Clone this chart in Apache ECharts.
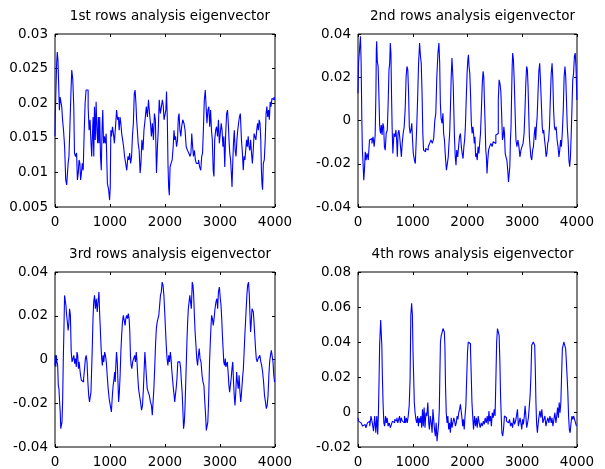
<!DOCTYPE html>
<html>
<head>
<meta charset="utf-8">
<title>rows analysis eigenvector</title>
<script src="https://cdn.jsdelivr.net/npm/echarts@6/dist/echarts.min.js"></script>
<style>
  html, body { margin: 0; padding: 0; background: #fff; }
  #main { width: 605px; height: 469px; }
</style>
</head>
<body>
<div id="main"></div>
<script>
// 子图标题
var titles = ['1st rows analysis eigenvector', '2nd rows analysis eigenvector',
  '3rd rows analysis eigenvector', '4th rows analysis eigenvector'];

// x 轴刻度 (采样点序号)
var xMin = 0, xMax = 4000, xStep = 1000;

// y 轴刻度
var yMins = [0.005, -0.04, -0.04, -0.02];
var yMaxs = [0.03, 0.04, 0.04, 0.08];
var ySteps = [0.005, 0.02, 0.02, 0.02];

// 第1行特征向量 [序号, 值]
var row1 = [[0,0.0152],[10,0.0183],[25,0.0183],[35,0.0258],[48,0.0274],[60,0.0262],[75,0.0262],[85,0.019],[100,0.0209],[115,0.0209],[130,0.0195],[145,0.0176],[165,0.0161],[185,0.0137],[205,0.0089],[220,0.0082],[232,0.0084],[245,0.0113],[262,0.0123],[280,0.0166],[297,0.0212],[312,0.0248],[335,0.0234],[348,0.0195],[360,0.0128],[385,0.0123],[400,0.0128],[415,0.0089],[430,0.0099],[445,0.0118],[460,0.0113],[472,0.0089],[488,0.0099],[505,0.0113],[520,0.0103],[540,0.0156],[555,0.02],[575,0.0219],[595,0.0219],[610,0.0195],[630,0.0161],[645,0.0176],[660,0.0147],[675,0.0123],[685,0.0152],[700,0.018],[710,0.0123],[725,0.0195],[740,0.0147],[755,0.0202],[770,0.0161],[782,0.0142],[795,0.018],[806,0.0142],[820,0.018],[835,0.0123],[848,0.0103],[862,0.0161],[875,0.019],[890,0.0142],[905,0.0152],[920,0.0142],[940,0.0156],[965,0.0084],[985,0.0075],[1000,0.006],[1010,0.0079],[1020,0.0161],[1035,0.0152],[1055,0.0166],[1070,0.0156],[1090,0.0142],[1110,0.0166],[1130,0.019],[1145,0.0176],[1160,0.018],[1175,0.0161],[1190,0.018],[1205,0.0171],[1220,0.0156],[1240,0.0147],[1255,0.0137],[1275,0.0123],[1295,0.0113],[1315,0.0103],[1335,0.0123],[1350,0.0118],[1365,0.0128],[1385,0.0113],[1400,0.0123],[1415,0.0152],[1435,0.0171],[1448,0.0214],[1465,0.0219],[1478,0.02],[1490,0.0176],[1505,0.0161],[1520,0.0142],[1540,0.0132],[1555,0.0099],[1570,0.0113],[1590,0.0147],[1610,0.0132],[1625,0.0161],[1650,0.0176],[1670,0.0195],[1690,0.018],[1710,0.0205],[1728,0.0185],[1745,0.0171],[1760,0.0152],[1780,0.0171],[1800,0.0147],[1815,0.0185],[1835,0.0176],[1855,0.0099],[1870,0.0137],[1885,0.0161],[1905,0.0205],[1925,0.0185],[1945,0.0195],[1960,0.0205],[1975,0.0197],[1990,0.0176],[2010,0.0176],[2020,0.019],[2035,0.0217],[2048,0.018],[2060,0.0113],[2072,0.0079],[2085,0.0067],[2100,0.0108],[2120,0.0113],[2140,0.0118],[2157,0.0137],[2170,0.0161],[2185,0.0147],[2200,0.0152],[2220,0.0137],[2235,0.0147],[2250,0.018],[2262,0.0185],[2280,0.0161],[2295,0.0152],[2310,0.0166],[2335,0.0176],[2355,0.0171],[2375,0.0161],[2395,0.0137],[2420,0.0132],[2445,0.0128],[2465,0.0123],[2478,0.0128],[2495,0.0156],[2510,0.0137],[2525,0.0123],[2545,0.0132],[2560,0.0118],[2580,0.0113],[2600,0.0113],[2618,0.0118],[2640,0.0108],[2660,0.0103],[2675,0.0123],[2690,0.0128],[2705,0.0161],[2725,0.0205],[2740,0.0219],[2755,0.0195],[2770,0.0171],[2790,0.019],[2805,0.0195],[2820,0.0166],[2838,0.019],[2852,0.0161],[2868,0.0147],[2885,0.0103],[2895,0.0094],[2912,0.0147],[2930,0.0161],[2945,0.0166],[2965,0.0152],[2980,0.0176],[2995,0.0142],[3015,0.0156],[3030,0.0171],[3045,0.0161],[3062,0.0137],[3078,0.0152],[3095,0.0108],[3112,0.0156],[3128,0.0185],[3145,0.019],[3157,0.0171],[3170,0.0147],[3185,0.0128],[3200,0.0118],[3212,0.0099],[3225,0.0079],[3238,0.0113],[3252,0.0142],[3268,0.0161],[3282,0.0132],[3300,0.0123],[3315,0.0147],[3330,0.0161],[3345,0.0171],[3360,0.018],[3380,0.0185],[3400,0.0147],[3415,0.0128],[3430,0.0103],[3445,0.0123],[3460,0.0118],[3475,0.0132],[3490,0.0147],[3505,0.0137],[3520,0.0152],[3535,0.0137],[3550,0.0132],[3565,0.0147],[3580,0.0128],[3597,0.0113],[3612,0.0132],[3628,0.0156],[3645,0.0156],[3660,0.0147],[3675,0.0161],[3690,0.0171],[3705,0.0161],[3720,0.0176],[3735,0.0171],[3748,0.0147],[3758,0.0103],[3768,0.0084],[3780,0.0075],[3795,0.0113],[3815,0.0118],[3830,0.0147],[3845,0.0185],[3860,0.0195],[3875,0.018],[3890,0.019],[3905,0.0176],[3920,0.0202],[3935,0.0195],[3955,0.0207],[3975,0.0205],[3990,0.0209],[4000,0.0205]];

// 第2行特征向量
var row2 = [[0,0.0126],[20,0.0265],[40,0.0265],[50,0.0389],[65,0.0265],[75,0.0002],[85,-0.0137],[100,-0.0199],[110,-0.0276],[125,-0.023],[140,-0.0145],[155,-0.0183],[175,-0.0152],[200,-0.0183],[220,-0.009],[245,-0.0083],[265,-0.0106],[285,-0.0075],[305,-0.0121],[322,-0.0067],[332,0.0126],[338,0.0327],[345,0.0366],[360,0.0273],[375,0.025],[390,0.0111],[398,-0.0013],[405,-0.0044],[420,-0.006],[432,-0.0021],[448,-0.0067],[462,-0.0013],[475,-0.0029],[490,-0.0121],[505,-0.0137],[525,-0.006],[545,-0.0044],[560,0.0095],[572,0.0234],[585,0.0265],[595,0.0358],[608,0.0312],[618,0.0111],[628,-0.0029],[645,-0.0152],[668,-0.006],[685,-0.0075],[700,-0.0044],[712,-0.009],[725,-0.0168],[738,-0.006],[755,-0.0044],[768,-0.0075],[785,-0.0121],[800,-0.0168],[815,-0.0106],[835,-0.006],[852,-0.0029],[870,0.0049],[888,0.0203],[901,0.025],[918,0.0234],[930,0.0126],[945,-0.0029],[960,-0.006],[975,-0.0044],[990,-0.0013],[1000,-0.0083],[1020,-0.0152],[1040,-0.0183],[1054,-0.0199],[1068,-0.0106],[1082,-0.0013],[1098,0.0111],[1115,0.0265],[1135,0.0358],[1148,0.0296],[1162,0.0265],[1178,0.0126],[1190,-0.006],[1205,-0.0137],[1225,-0.0145],[1245,-0.0129],[1270,-0.0137],[1295,-0.0121],[1320,-0.0106],[1345,-0.009],[1370,-0.0106],[1395,-0.0083],[1412,0.0002],[1430,0.0033],[1450,0.0203],[1470,0.0312],[1486,0.0358],[1498,0.0265],[1510,0.008],[1525,0.001],[1545,-0.0013],[1558,0.0033],[1570,-0.006],[1588,-0.009],[1605,-0.0168],[1626,-0.023],[1642,-0.0237],[1655,-0.0168],[1668,-0.0106],[1680,-0.006],[1695,0.0049],[1710,0.0203],[1722,0.0289],[1732,0.0296],[1745,0.0172],[1755,0.0049],[1768,-0.0075],[1785,-0.0168],[1795,-0.0207],[1812,-0.0137],[1830,-0.0168],[1845,-0.0121],[1862,-0.0075],[1880,-0.006],[1895,-0.0121],[1910,-0.0152],[1928,-0.0176],[1940,-0.0121],[1955,-0.009],[1968,-0.0029],[1985,0.0095],[2000,0.0219],[2012,0.0281],[2022,0.0304],[2035,0.025],[2048,0.0219],[2062,0.0126],[2078,-0.0013],[2092,-0.006],[2105,-0.0029],[2118,-0.006],[2130,-0.0106],[2142,-0.0075],[2155,-0.0168],[2170,-0.0152],[2185,-0.0183],[2200,-0.0121],[2215,-0.0152],[2230,-0.0106],[2245,-0.006],[2262,0.0049],[2278,0.0172],[2292,0.0227],[2302,0.0203],[2315,0.0095],[2328,-0.0013],[2340,-0.0137],[2350,-0.0168],[2363,-0.0245],[2378,-0.0183],[2392,-0.0137],[2415,-0.0121],[2440,-0.0106],[2460,-0.0121],[2480,-0.0098],[2505,-0.0106],[2530,-0.0067],[2555,-0.006],[2570,0.0095],[2585,0.0188],[2600,0.0172],[2618,0.0134],[2632,0.0018],[2645,-0.009],[2658,-0.0075],[2670,-0.0029],[2682,-0.006],[2695,-0.0152],[2710,-0.0168],[2728,-0.0183],[2742,-0.023],[2755,-0.0284],[2768,-0.0284],[2778,-0.0214],[2790,-0.009],[2800,-0.0029],[2812,0.0126],[2820,0.025],[2830,0.0312],[2848,0.0281],[2862,0.0172],[2875,0.0049],[2895,-0.009],[2912,-0.0121],[2930,-0.009],[2948,-0.0121],[2968,-0.0168],[2985,-0.0137],[3005,-0.0121],[3025,-0.0106],[3042,-0.006],[3058,0.0049],[3072,0.0172],[3088,0.025],[3100,0.0234],[3112,0.0157],[3125,0.0033],[3135,-0.0075],[3150,-0.0121],[3165,-0.0168],[3182,-0.0183],[3197,-0.0137],[3212,-0.0121],[3228,-0.006],[3240,-0.0029],[3252,-0.009],[3265,-0.0029],[3280,0.0018],[3295,0.0126],[3312,0.0227],[3325,0.0265],[3340,0.0188],[3358,0.008],[3372,-0.0029],[3385,-0.006],[3400,-0.0044],[3415,-0.009],[3428,-0.0121],[3442,-0.0168],[3458,-0.0152],[3472,-0.0106],[3490,-0.009],[3505,-0.0029],[3520,0.0095],[3538,0.0219],[3552,0.0265],[3565,0.0188],[3580,0.0049],[3595,-0.0029],[3610,-0.0044],[3628,-0.0029],[3645,-0.009],[3662,-0.0121],[3678,-0.0168],[3692,-0.0137],[3708,-0.009],[3722,-0.0121],[3740,-0.006],[3758,0.0049],[3772,0.0203],[3788,0.025],[3800,0.0203],[3815,0.0095],[3830,-0.0029],[3845,-0.009],[3860,-0.0183],[3873,-0.0214],[3888,-0.0168],[3902,-0.006],[3915,0.0064],[3930,0.0188],[3945,0.0219],[3960,0.0296],[3975,0.0312],[3988,0.025],[3995,0.0157],[4000,0.0095]];

// 第3行特征向量
var row3 = [[0,-0.0027],[10,0.0019],[18,-0.0034],[30,0.0019],[42,-0.0011],[55,-0.0027],[65,-0.0118],[78,-0.0133],[90,-0.0194],[100,-0.024],[109,-0.0316],[122,-0.0316],[132,-0.0286],[145,-0.0194],[155,-0.0011],[168,0.0126],[180,0.0293],[192,0.0293],[205,0.0248],[218,0.0202],[232,0.0171],[245,0.0133],[258,0.0164],[272,0.0232],[288,0.0202],[302,0.0034],[318,-0.0011],[335,0.0004],[350,0.0019],[365,-0.0019],[380,0.0004],[394,-0.0034],[405,0.0034],[420,0.0019],[432,-0.0042],[445,-0.0011],[458,-0.0042],[470,-0.0072],[490,-0.0095],[510,-0.0103],[530,-0.0088],[545,-0.0042],[560,0.0004],[575,0.0019],[590,-0.0011],[605,-0.0103],[620,-0.0164],[635,-0.0194],[648,-0.0202],[660,-0.0149],[673,-0.0042],[685,0.0065],[697,0.0187],[710,0.0263],[727,0.0293],[742,0.0232],[760,0.0278],[775,0.0217],[790,0.0263],[808,0.0309],[818,0.0202],[830,0.0141],[842,0.0065],[855,0.0004],[867,-0.0027],[880,0.0019],[895,-0.0011],[910,0.0034],[925,0.0019],[940,-0.0011],[958,-0.0072],[975,-0.0133],[995,-0.0179],[1015,-0.021],[1036,-0.024],[1050,-0.0164],[1065,-0.0118],[1080,-0.0088],[1090,-0.0057],[1100,-0.0103],[1112,-0.0027],[1125,0.0034],[1140,-0.0011],[1150,-0.0103],[1163,-0.0194],[1178,-0.0149],[1190,-0.0072],[1205,0.0034],[1218,0.011],[1235,0.0171],[1250,0.0202],[1268,0.0202],[1280,0.0156],[1295,0.0187],[1310,0.0202],[1325,0.0187],[1340,0.021],[1355,0.0187],[1365,0.0126],[1378,0.0019],[1390,-0.0027],[1405,-0.0042],[1420,-0.0011],[1440,0.0004],[1455,0.0019],[1470,-0.0011],[1485,0.0034],[1497,-0.0011],[1510,-0.0072],[1528,-0.0133],[1545,-0.0164],[1565,-0.0194],[1582,-0.0232],[1600,-0.021],[1615,-0.0133],[1628,-0.0042],[1640,0.0034],[1652,-0.0011],[1668,-0.0072],[1685,-0.0133],[1705,-0.0149],[1725,-0.0164],[1745,-0.0194],[1762,-0.021],[1776,-0.0255],[1790,-0.0194],[1805,-0.0133],[1820,-0.0042],[1835,0.0065],[1850,0.0141],[1865,0.0171],[1880,0.0187],[1895,0.0202],[1910,0.0248],[1925,0.0293],[1940,0.0309],[1957,0.0354],[1972,0.0339],[1988,0.0293],[2002,0.0217],[2015,0.0141],[2030,0.0065],[2045,0.0004],[2060,-0.0027],[2075,0.0019],[2090,-0.0011],[2105,0.0034],[2115,0.0004],[2128,-0.0042],[2145,-0.0088],[2160,-0.0133],[2172,-0.0164],[2182,-0.0194],[2195,-0.0164],[2210,-0.0133],[2225,-0.0088],[2240,-0.0011],[2260,-0.0011],[2278,-0.0019],[2292,-0.0042],[2305,-0.0103],[2318,-0.0149],[2330,-0.0225],[2345,-0.0316],[2358,-0.0286],[2368,-0.0225],[2380,-0.0133],[2392,-0.0027],[2405,0.008],[2418,0.0171],[2430,0.0232],[2445,0.0263],[2458,0.0293],[2470,0.0263],[2488,0.0232],[2503,0.0354],[2515,0.0339],[2528,0.0293],[2540,0.0202],[2555,0.0126],[2570,0.0065],[2585,0.0004],[2600,-0.0027],[2615,0.0019],[2630,0.005],[2645,0.0004],[2665,-0.0011],[2682,-0.0072],[2700,-0.0103],[2715,-0.0118],[2732,-0.0194],[2745,-0.0255],[2757,-0.0324],[2772,-0.0324],[2785,-0.0286],[2795,-0.021],[2805,-0.0118],[2815,-0.0011],[2828,0.0065],[2840,0.0141],[2855,0.0202],[2870,0.0187],[2885,0.0156],[2900,0.0187],[2918,0.0232],[2935,0.0263],[2950,0.0278],[2965,0.0232],[2978,0.0309],[3000,0.0331],[3012,0.0278],[3025,0.0248],[3038,0.0187],[3050,0.011],[3062,0.005],[3075,-0.0011],[3090,-0.0027],[3102,0.0004],[3112,-0.0034],[3125,-0.0042],[3140,-0.0011],[3155,-0.0057],[3168,-0.0118],[3182,-0.0149],[3195,-0.0118],[3210,-0.0088],[3225,-0.0042],[3240,-0.0011],[3252,-0.0103],[3265,-0.0164],[3280,-0.021],[3295,-0.0149],[3310,-0.0057],[3325,-0.0103],[3340,-0.0133],[3355,-0.0072],[3370,-0.0149],[3385,-0.0194],[3400,-0.0149],[3418,-0.0088],[3432,-0.0042],[3445,0.0034],[3458,0.011],[3470,0.0171],[3482,0.0232],[3495,0.0293],[3510,0.0339],[3527,0.0354],[3540,0.0293],[3550,0.0202],[3562,0.0126],[3575,0.0171],[3588,0.0232],[3600,0.024],[3612,0.0217],[3625,0.0171],[3640,0.011],[3652,0.005],[3668,0.0004],[3685,-0.0011],[3700,0.0004],[3715,0.0011],[3735,0.0019],[3750,-0.0011],[3765,-0.0027],[3785,-0.0057],[3800,-0.0103],[3818,-0.0164],[3835,-0.0194],[3850,-0.0225],[3865,-0.021],[3882,-0.0164],[3895,-0.0072],[3910,-0.0011],[3925,0.0019],[3942,0.0042],[3958,0.0034],[3970,-0.0011],[3985,-0.0072],[4000,-0.0103]];

// 第4行特征向量
var row4 = [[0,-0.0033],[20,-0.0052],[40,-0.0062],[70,-0.0071],[100,-0.0081],[130,-0.0071],[160,-0.009],[185,-0.0062],[205,-0.0052],[225,-0.0081],[250,-0.0023],[272,-0.0062],[295,-0.011],[315,-0.0023],[335,-0.0119],[352,-0.0023],[368,-0.0129],[380,0.0006],[390,0.0188],[400,0.0381],[410,0.039],[418,0.0525],[430,0.0515],[440,0.0381],[450,0.0208],[465,0.0054],[478,-0.0062],[495,-0.0081],[510,-0.0023],[525,-0.0062],[540,-0.0033],[560,-0.0081],[580,-0.0062],[600,-0.009],[620,-0.0071],[640,-0.0052],[660,-0.0062],[680,-0.0042],[700,-0.0052],[718,-0.0033],[735,-0.0062],[752,-0.0042],[765,-0.0023],[780,-0.0062],[800,-0.0033],[820,-0.0052],[840,-0.0062],[858,-0.0023],[875,-0.0062],[890,-0.0033],[910,-0.0062],[925,-0.0023],[945,0.0035],[958,0.0188],[972,0.0554],[987,0.0621],[1000,0.0554],[1010,0.0342],[1022,0.0208],[1035,0.0054],[1050,-0.0004],[1065,-0.0042],[1082,-0.0062],[1095,-0.0023],[1110,-0.0081],[1125,-0.0033],[1142,-0.0062],[1155,-0.0023],[1172,-0.009],[1185,0.0015],[1200,-0.0081],[1215,0.0025],[1232,-0.009],[1250,-0.0004],[1265,-0.0023],[1285,0.0054],[1298,-0.0062],[1310,-0.01],[1330,-0.0023],[1345,-0.0062],[1362,-0.0119],[1375,0.0015],[1390,-0.0042],[1405,-0.01],[1420,-0.0138],[1435,-0.0062],[1452,-0.0167],[1468,-0.0158],[1480,-0.0062],[1490,0.0015],[1500,0.0208],[1512,0.04],[1530,0.0438],[1548,0.0458],[1558,0.0477],[1571,0.0487],[1582,0.0458],[1592,0.0381],[1605,0.015],[1618,-0.0004],[1635,-0.0062],[1648,-0.0023],[1665,-0.01],[1680,-0.0062],[1695,-0.0119],[1710,-0.0033],[1725,-0.009],[1740,-0.0062],[1758,-0.0033],[1772,-0.0052],[1788,-0.0081],[1802,-0.0062],[1818,-0.0023],[1832,-0.0042],[1848,-0.0004],[1862,0.0015],[1878,0.0044],[1892,0.0035],[1905,-0.0033],[1918,-0.0081],[1932,-0.0042],[1948,-0.01],[1962,-0.0023],[1978,0.0035],[1992,0.0188],[2008,0.0342],[2020,0.04],[2034,0.041],[2048,0.039],[2062,0.0362],[2075,0.0208],[2088,0.0054],[2102,-0.0023],[2118,-0.01],[2138,-0.0023],[2155,-0.0081],[2170,-0.0033],[2185,-0.009],[2205,-0.0023],[2222,-0.0062],[2242,-0.009],[2260,-0.0062],[2280,-0.0081],[2298,-0.0052],[2315,-0.0071],[2332,-0.0033],[2352,-0.0062],[2368,-0.0023],[2385,-0.0071],[2398,0.0006],[2412,-0.0052],[2428,-0.0023],[2445,-0.0081],[2460,-0.0004],[2480,-0.0033],[2495,0.0015],[2512,-0.0023],[2525,0.0188],[2540,0.04],[2555,0.0477],[2570,0.0458],[2585,0.0438],[2598,0.0285],[2610,0.0092],[2622,-0.0023],[2635,-0.0119],[2650,-0.0138],[2665,-0.01],[2685,-0.0023],[2700,-0.0033],[2725,-0.0052],[2740,-0.0062],[2760,-0.0071],[2775,-0.0042],[2798,-0.0081],[2812,-0.0062],[2835,-0.009],[2850,-0.0033],[2870,-0.0071],[2885,-0.0052],[2905,-0.0023],[2920,0.0015],[2938,-0.0081],[2952,-0.009],[2968,-0.0033],[2982,-0.0062],[3000,-0.01],[3012,-0.0042],[3030,-0.0071],[3045,-0.0023],[3060,0.0035],[3072,-0.0023],[3090,-0.009],[3105,-0.0062],[3120,-0.0033],[3135,-0.0023],[3152,0.0092],[3165,0.0208],[3180,0.0381],[3195,0.0381],[3208,0.04],[3222,0.041],[3232,0.0381],[3245,0.0246],[3255,0.0054],[3268,-0.0062],[3285,-0.0119],[3300,-0.0062],[3315,-0.0023],[3330,0.0006],[3350,-0.0033],[3365,0.0015],[3388,-0.0062],[3402,-0.0042],[3425,-0.0023],[3440,-0.0081],[3460,-0.0052],[3475,-0.0033],[3498,-0.0062],[3512,-0.0023],[3525,-0.0042],[3535,-0.0062],[3550,-0.0033],[3570,-0.0081],[3585,-0.0042],[3608,-0.0004],[3622,-0.0062],[3638,-0.0023],[3652,0.0025],[3668,-0.0033],[3682,0.0054],[3698,-0.0004],[3712,0.0054],[3725,0.0208],[3740,0.0362],[3752,0.0381],[3768,0.04],[3785,0.0381],[3800,0.0362],[3812,0.0285],[3825,0.0208],[3840,0.0112],[3852,-0.0023],[3868,-0.01],[3882,-0.0119],[3900,-0.0062],[3915,-0.0023],[3930,-0.0042],[3945,-0.0023],[3965,-0.0042],[3980,-0.0033],[4000,-0.0081]];

var rows = [row1, row2, row3, row4];

var chart = echarts.init(document.getElementById('main'), null, {
  width: 605,
  height: 469,
  devicePixelRatio: 1
});

var font = 'DejaVu Sans, Verdana, sans-serif';

// 四个子图的位置 (像素)
var boxes = [
  { left: 55, top: 34, width: 220, height: 173 },
  { left: 358, top: 34, width: 219, height: 173 },
  { left: 55, top: 272, width: 220, height: 175 },
  { left: 358, top: 272, width: 219, height: 175 }
];

var option = {
  backgroundColor: '#fff',
  animation: false,
  title: [],
  grid: [],
  xAxis: [],
  yAxis: [],
  series: []
};

boxes.forEach(function (b, i) {
  option.title.push({
    text: titles[i],
    left: b.left + b.width / 2,
    top: b.top - 30,
    textAlign: 'center',
    textStyle: { fontSize: 13.5, fontWeight: 'normal', color: '#000', fontFamily: font }
  });
  option.grid.push({
    left: b.left, top: b.top, width: b.width, height: b.height,
    show: true, borderColor: '#000', borderWidth: 1, backgroundColor: '#fff'
  });
  // 下/上 x 轴，刻度朝里
  ['bottom', 'top'].forEach(function (pos) {
    option.xAxis.push({
      gridIndex: i,
      type: 'value',
      position: pos,
      min: xMin, max: xMax, interval: xStep,
      axisLine: { show: false, onZero: false },
      axisTick: { show: true, inside: true, length: 3, lineStyle: { color: '#000' } },
      splitLine: { show: false },
      axisLabel: {
        show: pos === 'bottom', color: '#000', fontSize: 13.5, margin: 8, fontFamily: font,
        formatter: function (v) { return String(v); }
      }
    });
  });
  // 左/右 y 轴
  ['left', 'right'].forEach(function (pos) {
    option.yAxis.push({
      gridIndex: i,
      type: 'value',
      position: pos,
      min: yMins[i], max: yMaxs[i], interval: ySteps[i],
      axisLine: { show: false, onZero: false },
      axisTick: { show: true, inside: true, length: 3, lineStyle: { color: '#000' } },
      splitLine: { show: false },
      axisLabel: { show: pos === 'left', color: '#000', fontSize: 13.5, margin: 7, fontFamily: font }
    });
  });
  option.series.push({
    type: 'line',
    xAxisIndex: i * 2,
    yAxisIndex: i * 2,
    data: rows[i],
    step: 'middle',  // 阶梯状，和原图的折线更像
    showSymbol: false,
    lineStyle: { color: '#0000ff', width: 1.1 }
  });
});

chart.setOption(option);
</script>
</body>
</html>
